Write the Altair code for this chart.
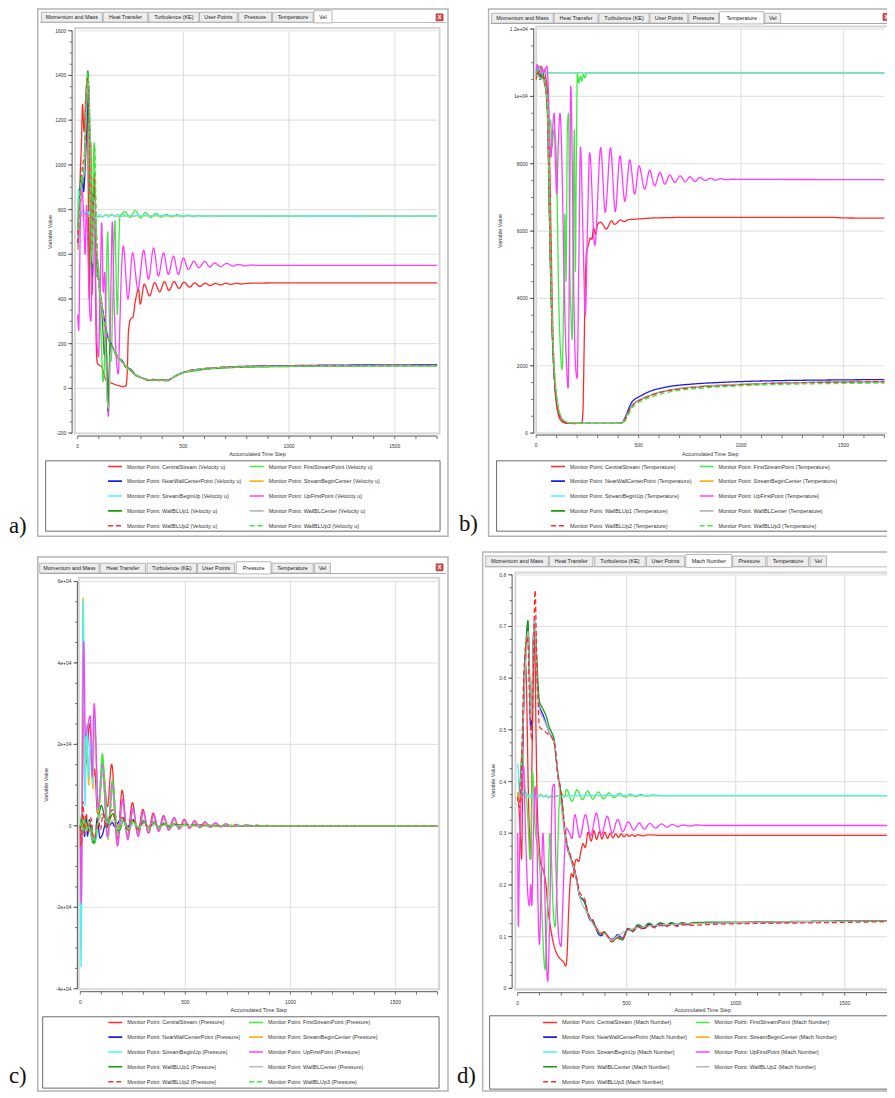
import altair as alt
import pandas as pd

M = 8            # page margin of the html page
W, H = 887, 1090 # whole canvas (page 895 x 1098 minus margins)

# ------------------------------------------------------------------ names
NAMES_ABC = ["CentralStream", "FirstStreamPoint", "NearWallCenterPoint", "StreamBeginCenter",
             "StreamBeginUp", "UpFirstPoint", "WallBLUp1", "WallBLCenter", "WallBLUp2", "WallBLUp3"]
NAMES_D = ["CentralStream", "FirstStreamPoint", "NearWallCenterPoint", "StreamBeginCenter",
           "StreamBeginUp", "UpFirstPoint", "WallBLCenter", "WallBLUp2", "WallBLUp3"]
TABS_ABC = ["Momentum and Mass", "Heat Transfer", "Turbulence (KE)", "User Points",
            "Pressure", "Temperature", "Vel"]
TABS_D = ["Momentum and Mass", "Heat Transfer", "Turbulence (KE)", "User Points",
          "Mach Number", "Pressure", "Temperature", "Vel"]
PANEL_TAGS = ["a)", "b)", "c)", "d)"]
X_TITLE = "Accumulated Time Step"
Y_TITLE = "Variable Value"

# tick values / labels
X_MAJOR = [0, 500, 1000, 1500]
X_LABELS = ["0", "500", "1000", "1500"]
A_YMAJOR = [-200, 0, 200, 400, 600, 800, 1000, 1200, 1400, 1600]
A_YLABELS = ["-200", "0", "200", "400", "600", "800", "1000", "1200", "1400", "1600"]
B_YMAJOR = [0, 2000, 4000, 6000, 8000, 10000, 12000]
B_YLABELS = ["0", "2000", "4000", "6000", "8000", "1e+04", "1.2e+04"]
C_YMAJOR = [-40000, -20000, 0, 20000, 40000, 60000]
C_YLABELS = ["-4e+04", "-2e+04", "0", "2e+04", "4e+04", "6e+04"]
D_YMAJOR = [0, 0.1, 0.2, 0.3, 0.4, 0.5, 0.6, 0.7, 0.8]
D_YLABELS = ["0", "0.1", "0.2", "0.3", "0.4", "0.5", "0.6", "0.7", "0.8"]

# ------------------------------------------------------------------ a) Velocity u  (step, value)
A_CENTRAL = [(0,636),(6,700),(12,950),(18,1100),(23,1270),(30,1150),(38,1300),(45,1382),(50,900),(55,399),
             (59,700),(62,1100),(65,800),(68,420),(73,700),(78,947),(83,600),(88,200),(92,118),(100,105),
             (112,100),(120,80),(133,38),(150,28),(170,20),(195,12),(215,8),(228,12),(234,60),(240,250),
             (250,310),(262,320),(272,385),(288,443),(296,377),(315,466),(340,414),(364,473),(388,432),
             (410,478),(432,438),(456,478),(479,447),(503,475),(529,453),(554,472),(578,456),(603,471),
             (627,460),(651,470),(676,463),(700,470),(725,465),(750,470),(775,467),(800,470),(850,471),
             (1000,472),(1700,472)]
A_FIRST = [(0,770),(5,700),(10,760),(18,950),(25,900),(32,1000),(40,1150),(48,1300),(55,1000),(60,700),
           (66,500),(72,900),(78,1100),(84,800),(90,500),(97,560),(104,400),(112,200),(120,30),(128,150),
           (135,450),(142,700),(150,300),(158,120),(166,400),(176,750),(182,500),(188,330),(194,600),
           (200,770),(210,780),(222,792),(248,765),(272,795),(298,762),(320,787),(345,765),(370,782),
           (395,766),(420,779),(445,767),(470,777),(495,768),(520,775),(545,769),(570,774),(600,770),
           (630,773),(670,771),(1700,771)]
A_NEAR = [(0,620),(6,760),(12,900),(20,950),(28,880),(36,1000),(44,1200),(52,1350),(58,1100),(64,700),
          (70,500),(76,850),(82,800),(90,600),(102,460),(112,390),(122,330),(134,270),(146,222),(158,200),
          (170,175),(182,150),(195,133),(210,125),(227,96),(240,90),(255,82),(272,59),(290,52),(310,45),
          (335,37),(360,40),(385,35),(410,38),(429,35),(445,45),(460,55),(475,62),(491,70),(510,74),
          (530,80),(554,84),(580,86),(610,90),(650,92),(710,96),(800,99),(900,101),(1000,102),(1200,104),
          (1400,105),(1700,106)]
A_SBC = [(0,620),(4,860),(9,730),(14,790),(22,770),(35,780),(50,770),(70,775),(100,768),(150,775),
         (200,770),(300,772),(1700,771)]
A_SBU = [(0,640),(4,890),(8,740),(12,800),(18,780),(26,800),(34,785),(44,770),(55,790),(68,760),(80,782),
         (92,765),(104,778),(118,765),(132,778),(146,766),(160,780),(175,767),(190,779),(205,768),
         (220,778),(235,768),(250,776),(265,769),(280,775),(300,770),(320,774),(345,771),(380,773),
         (450,772),(1700,771)]
A_UPFIRST = [(0,330),(5,260),(12,700),(20,890),(28,780),(35,600),(42,820),(50,560),(58,330),(63,300),
             (70,700),(76,860),(84,500),(92,200),(99,140),(106,420),(114,740),(121,430),(128,520),
             (136,150),(145,-125),(153,200),(158,500),(164,745),(172,400),(182,150),(192,65),(200,300),
             (208,550),(216,636),(238,400),(260,606),(285,443),(312,618),(335,488),(359,628),(382,503),
             (406,606),(429,510),(453,592),(476,510),(500,584),(523,532),(550,569),(573,540),(601,568),
             (625,543),(648,561),(675,545),(705,559),(735,547),(760,555),(790,548),(820,552),(860,550),
             (1700,550)]
A_UP1 = [(0,700),(8,820),(16,950),(24,930),(32,980),(40,1250),(48,1420),(55,1200),(62,800),(68,550),
         (75,880),(82,750),(92,580),(102,450),(112,380),(120,250),(126,150),(132,230),(138,120),(143,-100),
         (148,50),(154,200),(160,190),(172,170),(185,145),(198,130),(212,120),(227,95),(245,88),(260,75),
         (275,60),(295,50),(320,42),(345,36),(380,38),(420,34),(440,42),(460,52),(480,62),(500,70),
         (530,76),(560,80),(600,85),(700,92),(800,95),(1000,98),(1300,100),(1700,101)]
A_CENTER = [(0,680),(10,800),(20,920),(30,960),(40,1200),(50,1380),(58,1150),(65,700),(72,560),(80,850),
            (90,620),(100,470),(115,360),(130,200),(140,-60),(148,-90),(155,150),(165,185),(180,155),
            (200,130),(227,98),(270,62),(330,40),(420,36),(480,64),(560,84),(700,95),(1000,100),(1700,103)]
A_UP2 = [(0,650),(8,800),(16,920),(24,1000),(32,1050),(40,1300),(47,1390),(54,1250),(60,900),(66,620),
         (73,800),(80,960),(88,700),(96,520),(106,440),(118,350),(130,280),(142,230),(155,200),(170,178),
         (185,150),(200,130),(220,105),(240,92),(260,72),(280,57),(305,47),(335,38),(370,39),(410,36),
         (435,40),(455,52),(475,62),(495,70),(520,78),(550,83),(600,88),(700,95),(850,99),(1000,101),
         (1300,102),(1700,103)]
A_UP3 = [(0,720),(8,850),(16,930),(24,960),(32,1020),(40,1300),(48,1410),(55,1300),(61,1000),(67,600),
         (74,900),(81,1080),(88,750),(96,560),(104,450),(115,370),(127,300),(140,240),(152,205),(165,182),
         (180,158),(195,135),(212,120),(230,98),(248,85),(266,64),(285,54),(310,44),(340,36),(375,38),
         (415,35),(438,41),(458,53),(478,64),(498,72),(525,77),(555,82),(600,86),(700,93),(850,97),
         (1000,99),(1300,100),(1700,101)]

# ------------------------------------------------------------------ b) Temperature
B_CENTRAL = [(0,10500),(8,10800),(16,10700),(24,10900),(32,10600),(40,10800),(48,10500),(55,10200),
             (60,9500),(66,8000),(72,6000),(78,4000),(84,2500),(90,1500),(98,900),(108,550),(120,380),
             (135,310),(150,290),(190,285),(222,300),(228,600),(234,2500),(240,4500),(245,5300),(255,5600),
             (265,5800),(272,5750),(280,6100),(290,5900),(300,6200),(315,6263),(342,6065),(368,6300),
             (382,6200),(395,6250),(410,6330),(430,6280),(450,6340),(480,6350),(520,6370),(560,6385),
             (643,6400),(800,6410),(1200,6410),(1450,6405),(1500,6390),(1700,6385)]
B_FIRST = [(0,10600),(6,10800),(14,10900),(22,10700),(30,10600),(38,10500),(46,10300),(54,9800),
           (62,9000),(70,9300),(78,8500),(86,9000),(94,8800),(102,7000),(110,4000),(118,2500),(127,1890),
           (134,4000),(140,6500),(146,4500),(152,9000),(158,9500),(164,5000),(170,3500),(176,2777),
           (182,7000),(186,9000),(191,4800),(196,8000),(201,10700),(208,10400),(215,10600),(222,10450),
           (230,10650),(238,10550),(246,10700),(255,10700),(1700,10700)]
B_NEAR = [(0,10700),(10,10800),(20,10600),(30,10700),(40,10500),(50,10200),(56,9500),(62,7500),(68,5500),
          (74,4000),(80,2800),(86,2000),(92,1400),(100,950),(110,650),(122,450),(135,350),(150,310),
          (170,295),(200,290),(300,290),(400,292),(420,320),(435,480),(450,700),(465,900),(480,1000),
          (503,1080),(530,1170),(559,1250),(600,1320),(656,1390),(750,1450),(882,1500),(1000,1530),
          (1200,1560),(1400,1575),(1700,1590)]
B_SBC = [(0,10750),(8,10850),(16,10700),(30,10710),(60,10700),(1700,10700)]
B_SBU = [(0,10800),(5,10900),(10,10750),(16,10850),(22,10700),(30,10720),(40,10690),(60,10700),
         (100,10700),(1700,10700)]
B_UPFIRST = [(0,10700),(5,10950),(12,10800),(20,10650),(28,10850),(36,10700),(44,10800),(52,10900),
             (58,10400),(64,9200),(72,8200),(80,9000),(88,9500),(94,8000),(100,7100),(108,8600),(116,9500),
             (124,8500),(132,6000),(140,3500),(148,2000),(156,1340),(162,5000),(169,10300),(176,8000),
             (184,4000),(192,2000),(200,1630),(208,5000),(216,8500),(228,6000),(240,3500),(250,6000),
             (261,8330),(286,5574),(315,8478),(337,6558),(363,8478),(386,6578),(409,8232),(433,6883),
             (457,8115),(481,7099),(502,7937),(530,7247),(554,7808),(578,7346),(604,7740),(628,7394),
             (652,7671),(676,7444),(703,7641),(727,7464),(751,7612),(775,7474),(800,7592),(825,7500),
             (850,7570),(875,7515),(900,7555),(925,7525),(960,7540),(1000,7535),(1700,7530)]
B_UP1 = [(0,10600),(10,10700),(20,10500),(30,10650),(40,10400),(50,10000),(57,9000),(63,7000),(69,5000),
         (75,3600),(81,2500),(88,1700),(95,1200),(104,800),(115,550),(128,400),(142,330),(160,300),
         (190,290),(250,288),(350,289),(405,290),(425,330),(440,500),(455,680),(470,830),(490,930),
         (515,1010),(545,1090),(580,1170),(630,1250),(700,1320),(800,1380),(950,1430),(1100,1470),
         (1300,1500),(1500,1515),(1700,1525)]
B_CENTER = [(0,10650),(20,10550),(40,10450),(55,9800),(62,8000),(70,5200),(80,3000),(92,1600),(105,850),
            (120,500),(140,350),(170,300),(250,290),(405,292),(430,380),(450,620),(475,870),(510,1010),
            (560,1130),(650,1280),(800,1390),(1000,1450),(1300,1500),(1700,1530)]
B_UP2 = [(0,10650),(15,10750),(30,10600),(45,10300),(55,9700),(61,8000),(67,6000),(73,4200),(79,2900),
         (86,1900),(93,1300),(102,850),(112,560),(125,400),(140,330),(160,300),(200,290),(300,289),
         (405,291),(428,350),(445,560),(462,760),(480,880),(505,970),(535,1060),(570,1140),(620,1230),
         (700,1310),(800,1370),(950,1420),(1100,1460),(1300,1495),(1500,1515),(1700,1530)]
B_UP3 = [(0,10700),(15,10800),(30,10650),(45,10350),(54,9900),(60,8600),(66,6700),(72,4800),(78,3400),
         (85,2300),(92,1600),(100,1100),(110,700),(122,480),(136,370),(155,315),(180,295),(250,290),
         (350,289),(410,290),(432,340),(448,520),(465,720),(485,850),(510,940),(540,1020),(575,1100),
         (625,1190),(700,1270),(800,1330),(950,1390),(1100,1430),(1300,1460),(1500,1475),(1700,1485)]

# ------------------------------------------------------------------ c) Pressure
C_CENTRAL = [(0,0),(3,-9000),(17,28200),(26,15000),(44,25000),(62,12000),(68,14000),(82,3000),(108,14000),
             (129,4700),(149,15100),(177,-3400),(199,8750),(224,-2600),(248,5700),(273,-2000),(298,4060),
             (323,-1600),(347,3100),(372,-1200),(396,2500),(421,-900),(446,2000),(470,-700),(495,1600),
             (519,-500),(544,1200),(568,-400),(593,900),(618,-300),(643,650),(668,-200),(692,450),
             (717,-150),(741,300),(766,-100),(790,200),(815,-60),(840,120),(865,-40),(890,60),(915,-20),
             (960,20),(1000,0),(1700,0)]
C_FIRST = [(0,0),(5,2500),(12,-1500),(20,1800),(28,-1200),(36,1500),(45,-1500),(53,0),(66,-4400),
           (80,-1000),(92,8000),(105,17700),(118,9000),(130,1000),(140,3000),(153,11200),(166,4000),
           (178,-1500),(200,2000),(226,-1200),(250,1500),(275,-900),(300,1200),(325,-700),(349,900),
           (373,-500),(396,700),(421,-400),(446,500),(470,-300),(495,400),(520,-200),(545,300),(570,-150),
           (600,200),(640,-80),(700,80),(800,0),(1700,0)]
C_NEAR = [(0,0),(5,-2000),(14,2300),(20,-2600),(27,2300),(34,-2500),(44,1500),(52,-1200),(60,-3000),
          (68,-4000),(81,2000),(93,-3000),(105,-2200),(116,0),(129,1500),(140,200),(152,800),(164,-200),
          (177,600),(200,2000),(214,800),(226,-200),(250,1500),(275,-400),(300,1200),(325,-300),(349,900),
          (373,-200),(396,600),(421,-150),(446,400),(470,-100),(495,300),(520,-80),(545,200),(600,100),
          (700,30),(800,0),(1700,0)]
C_SBC = [(0,0),(3,-30000),(13,56000),(21,8000),(30,22000),(40,10000),(50,20000),(60,9000),(68,25000),
         (86,3000),(105,13000),(132,-3400),(152,9000),(177,-4200),(201,5500),(226,-3000),(251,3800),
         (276,-2200),(301,3000),(326,-1500),(350,2300),(375,-1200),(400,1900),(425,-900),(450,1500),
         (475,-650),(500,1100),(525,-450),(550,800),(575,-330),(600,550),(625,-250),(650,380),(675,-170),
         (700,250),(750,-80),(800,120),(850,-40),(900,50),(1000,0),(1700,0)]
C_SBU = [(0,0),(3,-34600),(14,55300),(22,5000),(30,25000),(40,12000),(48,22000),(58,10000),(66,28000),
         (84,4000),(104,14000),(131,-3000),(151,9800),(176,-4600),(200,6000),(225,-3200),(250,4000),
         (275,-2400),(300,3300),(325,-1700),(349,2500),(373,-1300),(396,2100),(421,-1000),(446,1800),
         (470,-700),(495,1300),(520,-500),(545,1000),(570,-380),(595,800),(620,-300),(645,600),(670,-200),
         (695,420),(720,-150),(745,300),(770,-100),(800,200),(830,-60),(860,100),(890,-30),(930,40),
         (1000,0),(1700,0)]
C_UPFIRST = [(0,0),(4,-19000),(16,45200),(24,22000),(47,27000),(56,12000),(66,30000),(86,4000),(105,15200),
             (129,-2600),(152,10400),(177,-5000),(200,6500),(226,-3400),(250,4300),(275,-2600),(300,3500),
             (325,-1800),(349,2700),(373,-1360),(396,2300),(421,-1100),(446,2000),(470,-800),(495,1460),
             (519,-600),(544,1200),(568,-450),(593,900),(618,-350),(643,700),(668,-250),(692,500),
             (717,-180),(741,350),(766,-120),(790,250),(815,-80),(840,150),(865,-50),(890,90),(915,-30),
             (960,30),(1010,0),(1700,0)]
C_UP1 = [(0,0),(6,1500),(14,-1800),(22,1500),(30,-1000),(40,1200),(50,-2000),(62,-4200),(74,-1500),
         (88,2500),(100,5000),(112,3000),(125,-500),(140,1500),(155,3000),(170,500),(185,-1200),(205,1200),
         (228,-800),(252,1000),(277,-600),(302,800),(327,-450),(352,600),(376,-300),(400,450),(425,-200),
         (450,300),(500,150),(550,80),(600,30),(700,0),(1700,0)]
C_CENTER = [(0,0),(8,-1000),(16,1800),(26,-1500),(36,1200),(48,-1800),(62,-3500),(76,-800),(90,1500),
            (104,3000),(120,1000),(140,800),(160,1500),(180,-800),(205,1000),(230,-600),(255,800),
            (280,-400),(305,600),(330,-300),(355,400),(380,-200),(405,300),(450,100),(500,50),(600,0),
            (1700,0)]
C_UP2 = [(0,0),(4,-5000),(12,6000),(20,-2000),(28,3000),(38,-1500),(50,2000),(62,-3000),(72,-2500),
         (84,2000),(96,-1000),(108,3000),(122,-500),(138,2000),(152,4000),(168,500),(180,-1800),(202,2500),
         (226,-1400),(250,1800),(275,-1000),(300,1300),(325,-700),(349,1000),(373,-500),(396,700),
         (421,-350),(446,500),(470,-250),(495,350),(545,200),(600,80),(700,0),(1700,0)]
C_UP3 = [(0,0),(5,1200),(13,-1500),(22,1500),(32,-1200),(44,1000),(55,-2500),(66,-4200),(80,-800),
         (94,7000),(106,16500),(118,8000),(130,500),(142,2500),(154,10500),(166,3500),(179,-1800),
         (200,1800),(226,-1100),(250,1400),(275,-800),(300,1100),(325,-600),(349,800),(373,-450),
         (396,600),(421,-350),(446,450),(470,-250),(495,350),(520,-180),(545,250),(575,-120),(605,150),
         (650,-60),(700,60),(800,0),(1700,0)]

# ------------------------------------------------------------------ d) Mach Number
D_CENTRAL = [(0,0.37),(6,0.35),(12,0.3),(18,0.25),(24,0.45),(30,0.6),(36,0.63),(42,0.55),(48,0.4),
             (54,0.3),(60,0.25),(66,0.45),(72,0.6),(78,0.7),(84,0.5),(90,0.35),(98,0.28),(106,0.24),
             (118,0.228),(130,0.2),(140,0.15),(150,0.12),(160,0.095),(172,0.075),(186,0.062),(200,0.055),
             (212,0.05),(220,0.043),(226,0.06),(234,0.15),(240,0.2),(247,0.222),(255,0.215),(262,0.24),
             (270,0.25),(280,0.245),(290,0.265),(300,0.28),(310,0.272),(323,0.302),(337,0.285),(350,0.305),
             (362,0.288),(375,0.303),(387,0.289),(400,0.302),(412,0.29),(425,0.3),(437,0.291),(450,0.299),
             (462,0.292),(475,0.299),(488,0.293),(500,0.298),(512,0.294),(525,0.297),(537,0.294),
             (550,0.297),(575,0.295),(600,0.297),(650,0.296),(1700,0.296)]
D_FIRST = [(0,0.37),(6,0.36),(12,0.4),(20,0.46),(28,0.42),(35,0.38),(42,0.36),(50,0.3),(56,0.25),
           (62,0.28),(68,0.42),(74,0.38),(82,0.3),(90,0.28),(98,0.25),(106,0.2),(114,0.12),(120,0.06),
           (126,0.036),(132,0.1),(140,0.2),(148,0.3),(155,0.25),(162,0.16),(172,0.119),(180,0.2),
           (188,0.33),(196,0.38),(205,0.375),(214,0.37),(224,0.385),(249,0.362),(273,0.384),(297,0.365),
           (321,0.382),(345,0.366),(370,0.38),(394,0.367),(418,0.378),(442,0.369),(467,0.377),(492,0.37),
           (516,0.376),(540,0.371),(565,0.375),(590,0.372),(620,0.374),(660,0.373),(1700,0.373)]
D_NEAR = [(0,0.37),(8,0.36),(15,0.4),(22,0.46),(28,0.55),(34,0.62),(40,0.66),(47,0.70),(54,0.6),
          (60,0.5),(66,0.55),(72,0.68),(78,0.71),(85,0.65),(92,0.58),(100,0.545),(110,0.535),(120,0.525),
          (132,0.51),(145,0.495),(158,0.485),(170,0.47),(180,0.43),(188,0.40),(196,0.38),(206,0.34),
          (216,0.30),(226,0.275),(240,0.255),(255,0.235),(270,0.21),(285,0.177),(298,0.172),(310,0.163),
          (320,0.145),(331,0.133),(345,0.128),(360,0.115),(372,0.104),(384,0.102),(398,0.108),(412,0.101),
          (429,0.095),(445,0.098),(459,0.104),(470,0.1),(482,0.097),(495,0.108),(505,0.116),(527,0.111),
          (552,0.121),(578,0.116),(602,0.124),(628,0.119),(655,0.125),(680,0.121),(705,0.126),(730,0.122),
          (755,0.126),(780,0.123),(805,0.126),(900,0.127),(1000,0.127),(1100,0.128),(1300,0.129),
          (1500,0.13),(1700,0.131)]
D_SBC = [(0,0.38),(5,0.36),(10,0.376),(20,0.37),(35,0.374),(60,0.371),(100,0.373),(150,0.37),(200,0.373),
         (1700,0.373)]
D_SBU = [(0,0.435),(4,0.41),(8,0.38),(14,0.375),(22,0.382),(32,0.371),(42,0.378),(52,0.37),(62,0.376),
         (72,0.368),(82,0.375),(94,0.369),(106,0.376),(118,0.37),(130,0.374),(142,0.368),(154,0.374),
         (166,0.37),(180,0.373),(200,0.372),(260,0.373),(1700,0.373)]
D_UPFIRST = [(0,0.3),(3,0.12),(8,0.25),(14,0.35),(20,0.40),(27,0.43),(33,0.35),(40,0.25),(47,0.18),
             (54,0.16),(60,0.2),(65,0.16),(72,0.3),(80,0.39),(88,0.3),(94,0.15),(100,0.085),(108,0.2),
             (116,0.3),(124,0.2),(130,0.08),(138,0.014),(145,0.1),(152,0.25),(160,0.39),(168,0.395),
             (175,0.25),(185,0.12),(192,0.09),(199,0.081),(206,0.15),(214,0.25),(224,0.31),(238,0.3),
             (249,0.29),(262,0.336),(285,0.292),(311,0.336),(335,0.295),(361,0.339),(384,0.297),
             (411,0.333),(434,0.3),(459,0.327),(482,0.303),(508,0.322),(532,0.306),(558,0.32),(580,0.308),
             (606,0.319),(632,0.31),(660,0.318),(685,0.312),(710,0.317),(735,0.313),(760,0.316),
             (790,0.314),(820,0.316),(870,0.315),(1700,0.315)]
D_WCENTER = [(0,0.37),(8,0.38),(15,0.42),(22,0.48),(28,0.58),(34,0.64),(40,0.68),(47,0.712),(54,0.62),
             (60,0.52),(66,0.56),(72,0.67),(78,0.70),(85,0.66),(92,0.6),(100,0.555),(110,0.545),
             (120,0.537),(132,0.525),(145,0.505),(156,0.495),(168,0.48),(178,0.44),(186,0.41),(195,0.385),
             (205,0.35),(215,0.31),(226,0.28),(240,0.258),(255,0.238),(270,0.212),(285,0.178),(298,0.173),
             (310,0.165),(320,0.147),(331,0.136),(345,0.13),(360,0.117),(372,0.108),(384,0.105),
             (398,0.109),(412,0.1),(429,0.093),(445,0.094),(459,0.1),(470,0.096),(482,0.094),(495,0.106),
             (505,0.115),(527,0.112),(552,0.123),(578,0.119),(602,0.126),(628,0.121),(655,0.127),
             (680,0.123),(705,0.127),(730,0.124),(755,0.127),(780,0.125),(805,0.127),(900,0.128),
             (1000,0.128),(1200,0.129),(1400,0.13),(1700,0.131)]
D_UP2 = [(0,0.37),(10,0.38),(20,0.45),(30,0.58),(40,0.65),(47,0.69),(55,0.58),(62,0.52),(70,0.64),
         (78,0.72),(88,0.6),(100,0.54),(120,0.52),(145,0.495),(170,0.47),(190,0.39),(210,0.32),(230,0.27),
         (260,0.23),(285,0.177),(320,0.145),(360,0.115),(400,0.105),(430,0.094),(460,0.102),(500,0.112),
         (560,0.118),(650,0.122),(800,0.125),(1000,0.127),(1300,0.129),(1700,0.13)]
D_UP3 = [(0,0.37),(8,0.35),(15,0.38),(22,0.5),(28,0.6),(34,0.65),(40,0.67),(46,0.68),(52,0.6),(58,0.52),
         (65,0.48),(72,0.62),(80,0.77),(88,0.62),(95,0.54),(100,0.506),(115,0.5),(130,0.495),(145,0.49),
         (158,0.485),(168,0.475),(178,0.44),(186,0.41),(196,0.39),(205,0.36),(216,0.31),(226,0.28),
         (240,0.26),(255,0.24),(270,0.215),(285,0.185),(298,0.178),(310,0.17),(320,0.15),(331,0.138),
         (345,0.133),(360,0.118),(372,0.11),(384,0.106),(398,0.11),(412,0.102),(429,0.09),(445,0.092),
         (459,0.098),(470,0.094),(482,0.095),(495,0.106),(505,0.114),(527,0.109),(552,0.119),(578,0.114),
         (602,0.122),(628,0.117),(655,0.122),(680,0.119),(705,0.123),(730,0.12),(760,0.123),(800,0.122),
         (900,0.124),(1000,0.125),(1200,0.126),(1400,0.127),(1700,0.129)]

# ------------------------------------------------------------------ styles
RED, LGREEN, BLUE, ORANGE = "#ff2b2b", "#3ded3d", "#1c1ce8", "#ffb31a"
CYAN, MAGENTA, DGREEN, GREY = "#45f5f5", "#ff3dff", "#139a13", "#b8b8b8"
SOLID, DASH = [1, 0], [5, 3]
STYLE_ABC = [(RED, SOLID), (LGREEN, SOLID), (BLUE, SOLID), (ORANGE, SOLID), (CYAN, SOLID),
             (MAGENTA, SOLID), (DGREEN, SOLID), (GREY, SOLID), (RED, DASH), (LGREEN, DASH)]
STYLE_D = [(RED, SOLID), (LGREEN, SOLID), (BLUE, SOLID), (ORANGE, SOLID), (CYAN, SOLID),
           (MAGENTA, SOLID), (DGREEN, SOLID), (GREY, SOLID), (RED, DASH)]

FONT = "Liberation Sans"
TXT = "#333333"
AXC = "#555555"


def series_frame(series, names, var):
    rows = []
    for name, pts in zip(names, series):
        lab = f"Monitor Point: {name} ({var})"
        for t, v in pts:
            rows.append({"t": t, "v": v, "label": lab})
    return pd.DataFrame(rows)


def panel(series, names, var, styles, ydom, xr, yr, ax_x, ax_y, ymajor, ylabels, ystep,
          xtitle_xy, ytitle_xy, leg_x, leg_y, col_pad):
    labels = [f"Monitor Point: {n} ({var})" for n in names]
    df = series_frame(series, names, var)
    xs = alt.Scale(domain=[0, 1700], range=[xr[0] - M, xr[1] - M], zero=False, nice=False)
    ys = alt.Scale(domain=ydom, range=[yr[0] - M, yr[1] - M], zero=False, nice=False)
    X0, Y0 = ax_x - M, ax_y - M

    leg = alt.Legend(orient="none", legendX=leg_x - M, legendY=leg_y - M - 7, columns=2,
                     direction="horizontal", columnPadding=col_pad, rowPadding=3,
                     symbolType="stroke", symbolSize=196, symbolStrokeWidth=1.6,
                     labelFont=FONT, labelFontSize=5.5, labelColor=TXT, labelLimit=400,
                     title=None, padding=0)

    # grid
    grid_rows = [{"gx": g, "gx2": g, "gy": ydom[0], "gy2": ydom[1]} for g in X_MAJOR[1:]]
    grid_rows += [{"gx": -12, "gx2": 1700, "gy": g, "gy2": g} for g in ymajor]
    grid = alt.Chart(pd.DataFrame(grid_rows)).mark_rule(color="#e2e2e2", strokeWidth=1.2).encode(
        x=alt.X("gx:Q", scale=xs, axis=None), x2="gx2:Q",
        y=alt.Y("gy:Q", scale=ys, axis=None), y2="gy2:Q")

    # axes drawn from tick lists through the panel scales
    n_minor = int(round((ydom[1] - ydom[0]) / ystep))
    yminor = [round(ydom[0] + i * ystep, 6) for i in range(n_minor + 1)]
    xminor = list(range(0, 1701, 100))
    ydomain_line = alt.Chart(pd.DataFrame({"lo": [ydom[0]], "hi": [ydom[1]]})).mark_rule(
        color=AXC, strokeWidth=1).encode(y=alt.Y("lo:Q", scale=ys, axis=None), y2="hi:Q",
                                         x=alt.value(X0))
    xdomain_line = alt.Chart(pd.DataFrame({"lo": [0], "hi": [1700]})).mark_rule(
        color=AXC, strokeWidth=1).encode(x=alt.X("lo:Q", scale=xs, axis=None), x2="hi:Q",
                                         y=alt.value(Y0))
    yticks_minor = alt.Chart(pd.DataFrame({"v": yminor})).mark_rule(color=AXC, strokeWidth=0.8).encode(
        y=alt.Y("v:Q", scale=ys, axis=None), x=alt.value(X0 - 2.5), x2=alt.value(X0))
    yticks_major = alt.Chart(pd.DataFrame({"v": ymajor})).mark_rule(color=AXC, strokeWidth=0.9).encode(
        y=alt.Y("v:Q", scale=ys, axis=None), x=alt.value(X0 - 4), x2=alt.value(X0))
    xticks = alt.Chart(pd.DataFrame({"t": xminor})).mark_rule(color=AXC, strokeWidth=0.8).encode(
        x=alt.X("t:Q", scale=xs, axis=None), y=alt.value(Y0), y2=alt.value(Y0 + 3))
    ylab = alt.Chart(pd.DataFrame({"v": ymajor, "lab": ylabels})).mark_text(
        font=FONT, fontSize=5, color=TXT, align="right", baseline="middle").encode(
        y=alt.Y("v:Q", scale=ys, axis=None), x=alt.value(X0 - 6), text="lab:N")
    xlab = alt.Chart(pd.DataFrame({"t": X_MAJOR, "lab": X_LABELS})).mark_text(
        font=FONT, fontSize=5, color=TXT, align="center", baseline="middle").encode(
        x=alt.X("t:Q", scale=xs, axis=None), y=alt.value(Y0 + 10.5), text="lab:N")
    xtitle = alt.Chart(pd.DataFrame({"s": [X_TITLE]})).mark_text(
        font=FONT, fontSize=5.4, color=TXT, align="center", baseline="middle").encode(
        x=alt.value(xtitle_xy[0] - M), y=alt.value(xtitle_xy[1] - M), text="s:N")
    ytitle = alt.Chart(pd.DataFrame({"s": [Y_TITLE]})).mark_text(
        font=FONT, fontSize=5.4, color=TXT, align="center", baseline="middle", angle=270).encode(
        x=alt.value(ytitle_xy[0] - M), y=alt.value(ytitle_xy[1] - M), text="s:N")

    lines = alt.Chart(df).mark_line(interpolate="monotone", strokeWidth=1.3).encode(
        x=alt.X("t:Q", scale=xs, axis=None),
        y=alt.Y("v:Q", scale=ys, axis=None),
        color=alt.Color("label:N", scale=alt.Scale(domain=labels, range=[s[0] for s in styles]),
                        legend=leg),
        strokeDash=alt.StrokeDash("label:N",
                                  scale=alt.Scale(domain=labels, range=[s[1] for s in styles]),
                                  legend=leg),
    )
    return alt.layer(grid, ydomain_line, xdomain_line, yticks_minor, yticks_major, xticks,
                     ylab, xlab, xtitle, ytitle, lines)


# ------------------------------------------------------------------ window chrome (layout)
WINDOWS = [(38, 4, 452, 536), (493, 4, 905, 536), (38, 557, 452, 1096), (487, 552, 905, 1096)]
TAB_Y = [(7.3, 17.3), (8.3, 18.3), (563.3, 573.3), (556, 566.7)]
TAB_EDGES = [
    [(41.7, 103.3), (104, 149), (150, 200.7), (201.3, 239.3), (240.7, 274), (275, 316), (316.7, 335)],
    [(496, 558.3), (559, 603.3), (604.3, 655), (655.7, 694), (695, 725), (726, 770.7), (771.7, 787.7)],
    [(40, 100), (101, 146.7), (148.3, 198.3), (199.3, 236.7), (238.3, 273.3), (274.3, 316), (317.3, 333.3)],
    [(490, 553.3), (554.3, 598.3), (600, 651), (652.3, 690.7), (692, 738.3), (739.3, 772.7), (774, 816),
     (817.3, 834)],
]
ACTIVE = [6, 5, 4, 4]
PLOT_BOX = [(75.5, 23.3, 443.5, 432.5), (541, 21.7, 905, 432.5), (79.5, 578, 443, 993.3),
            (520, 572.7, 905, 993.8)]
LEG_BOX = [(46, 460, 444, 531), (501, 460, 905, 531), (43, 1021, 443, 1093), (494, 1020, 905, 1094)]
CLOSE = [(440, 9, 447, 16), (891, 8.5, 898, 15.5), (440, 564, 447, 571)]
TAG_POS = [(9, 533), (463, 531), (9, 1088), (461, 1088)]

rects, texts = [], []
for (x0, y0, x1, y1) in WINDOWS:
    rects.append((x0, y0, x1, y1, "white", "#b4b4b4", 1.5))
for p, tabs in enumerate([TABS_ABC, TABS_ABC, TABS_ABC, TABS_D]):
    ty0, ty1 = TAB_Y[p]
    wx0, _, wx1, _ = WINDOWS[p]
    rects.append((wx0 + 2, ty1, wx1 - 2, ty1 + 0.8, "#a8a8a8", "#a8a8a8", 0))
    for i, name in enumerate(tabs):
        e0, e1 = TAB_EDGES[p][i]
        act = i == ACTIVE[p]
        rects.append((e0, ty0 - (1.5 if act else 0), e1, ty1 + (0.8 if act else 0),
                      "white" if act else "#ededed", "#a4a4a4", 0.8))
        texts.append({"x": (e0 + e1) / 2 - M, "y": (ty0 + ty1) / 2 - M, "text": name})
for (x0, y0, x1, y1) in PLOT_BOX:
    rects.append((x0, y0, x1, y1, "transparent", "#d6d6d6", 2))
for (x0, y0, x1, y1) in LEG_BOX:
    rects.append((x0, y0, x1, y1, "transparent", "#6a6a6a", 1))
for (x0, y0, x1, y1) in CLOSE:
    rects.append((x0, y0, x1, y1, "#d9534f", "#a33a36", 0.8))

rect_df = pd.DataFrame([{"x": a - M, "y": b - M, "x2": c - M, "y2": d - M, "fill": f, "stroke": s, "sw": w}
                        for a, b, c, d, f, s, w in rects])
chrome = alt.Chart(rect_df).mark_rect().encode(
    x=alt.X("x:Q", scale=None), x2="x2:Q", y=alt.Y("y:Q", scale=None), y2="y2:Q",
    fill=alt.Fill("fill:N", scale=None), stroke=alt.Stroke("stroke:N", scale=None),
    strokeWidth=alt.StrokeWidth("sw:Q", scale=None))
tab_text = alt.Chart(pd.DataFrame(texts)).mark_text(font=FONT, fontSize=5.5, color="#222222",
                                                     baseline="middle", align="center").encode(
    x=alt.X("x:Q", scale=None), y=alt.Y("y:Q", scale=None), text="text:N")
close_text = alt.Chart(pd.DataFrame([{"x": (c[0] + c[2]) / 2 - M, "y": (c[1] + c[3]) / 2 - M, "text": "x"}
                                     for c in CLOSE])).mark_text(
    font=FONT, fontSize=6.5, fontWeight="bold", color="white", baseline="middle", align="center").encode(
    x=alt.X("x:Q", scale=None), y=alt.Y("y:Q", scale=None), text="text:N")
tags = alt.Chart(pd.DataFrame([{"x": p[0] - M, "y": p[1] - M, "text": t}
                               for p, t in zip(TAG_POS, PANEL_TAGS)])).mark_text(
    font="Liberation Serif", fontSize=23, color="#111111", baseline="alphabetic", align="left").encode(
    x=alt.X("x:Q", scale=None), y=alt.Y("y:Q", scale=None), text="text:N")

# ------------------------------------------------------------------ panels
pa = panel([A_CENTRAL, A_FIRST, A_NEAR, A_SBC, A_SBU, A_UPFIRST, A_UP1, A_CENTER, A_UP2, A_UP3],
           NAMES_ABC, "Velocity u", STYLE_ABC, [-200, 1600], (78.3, 441), (432, 26), 72.7, 435,
           A_YMAJOR, A_YLABELS, 50, (259.7, 452.7), (50, 229), 108, 464.5, 4)
pb = panel([B_CENTRAL, B_FIRST, B_NEAR, B_SBC, B_SBU, B_UPFIRST, B_UP1, B_CENTER, B_UP2, B_UP3],
           NAMES_ABC, "Temperature", STYLE_ABC, [0, 12000], (541, 892.4), (432, 24.3), 538.5, 434,
           B_YMAJOR, B_YLABELS, 500, (716.7, 453.3), (505, 228), 555, 464.5, 4)
pc = panel([C_CENTRAL, C_FIRST, C_NEAR, C_SBC, C_SBU, C_UPFIRST, C_UP1, C_CENTER, C_UP2, C_UP3],
           NAMES_ABC, "Pressure", STYLE_ABC, [-40000, 60000], (81, 441.4), (992.7, 581.7), 78, 995.7,
           C_YMAJOR, C_YLABELS, 5000, (261, 1014), (46, 787), 108.3, 1025.5, 4)
pd_ = panel([D_CENTRAL, D_FIRST, D_NEAR, D_SBC, D_SBU, D_UPFIRST, D_WCENTER, D_UP2, D_UP3],
            NAMES_D, "Mach Number", STYLE_D, [0, 0.8], (522.3, 896.3), (992.3, 575), 516.7, 996.7,
            D_YMAJOR, D_YLABELS, 0.025, (709, 1014), (497.3, 783), 547, 1025.5, 4)

chart = alt.layer(chrome, pa, pb, pc, pd_, tab_text, close_text, tags).resolve_scale(
    x="independent", y="independent", color="independent", strokeDash="independent"
).resolve_legend(color="independent", strokeDash="independent").properties(
    width=W, height=H, padding=0, autosize=alt.AutoSizeParams(type="none"), background="white"
).configure_view(strokeWidth=0)

chart.save("out.html", embed_options={"renderer": "svg", "actions": False})
